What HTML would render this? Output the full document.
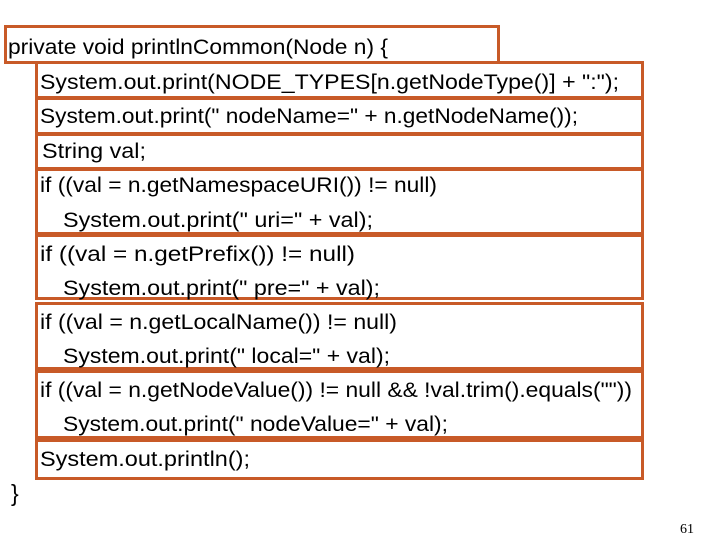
<!DOCTYPE html>
<html><head><style>
html,body{margin:0;padding:0;background:#fff;width:720px;height:540px;overflow:hidden}
svg text{font-family:"Liberation Sans",sans-serif;font-size:21px;fill:#000}
</style></head><body>
<svg width="720" height="540" xmlns="http://www.w3.org/2000/svg">
<g fill="none" stroke="#c85a28" stroke-width="3">
<rect x="5.5" y="26.5" width="493" height="36"/>
<rect x="36.5" y="62.5" width="606" height="35"/>
<rect x="36.5" y="98.5" width="606" height="35"/>
<rect x="36.5" y="134.5" width="606" height="34"/>
<rect x="36.5" y="169.5" width="606" height="64"/>
<rect x="36.5" y="235.5" width="606" height="63"/>
<rect x="36.5" y="303.5" width="606" height="65"/>
<rect x="36.5" y="371.5" width="606" height="66"/>
<rect x="36.5" y="440.5" width="606" height="38"/>
</g>
<text x="8" y="54" textLength="380" lengthAdjust="spacingAndGlyphs">private void printlnCommon(Node n) {</text>
<text x="40" y="89" textLength="579" lengthAdjust="spacingAndGlyphs">System.out.print(NODE_TYPES[n.getNodeType()] + ":");</text>
<text x="40" y="123" textLength="538" lengthAdjust="spacingAndGlyphs">System.out.print(" nodeName=" + n.getNodeName());</text>
<text x="42" y="158" textLength="104" lengthAdjust="spacingAndGlyphs">String val;</text>
<text x="40" y="192" textLength="397" lengthAdjust="spacingAndGlyphs">if ((val = n.getNamespaceURI()) != null)</text>
<text x="63" y="227" textLength="310" lengthAdjust="spacingAndGlyphs">System.out.print(" uri=" + val);</text>
<text x="40" y="261" textLength="315" lengthAdjust="spacingAndGlyphs">if ((val = n.getPrefix()) != null)</text>
<text x="63" y="295" textLength="317" lengthAdjust="spacingAndGlyphs">System.out.print(" pre=" + val);</text>
<text x="40" y="329" textLength="357" lengthAdjust="spacingAndGlyphs">if ((val  = n.getLocalName()) != null)</text>
<text x="63" y="363" textLength="327" lengthAdjust="spacingAndGlyphs">System.out.print(" local=" + val);</text>
<text x="40" y="397" textLength="592" lengthAdjust="spacingAndGlyphs">if ((val = n.getNodeValue()) != null &amp;&amp; !val.trim().equals(""))</text>
<text x="63" y="431" textLength="385" lengthAdjust="spacingAndGlyphs">System.out.print(" nodeValue=" + val);</text>
<text x="40" y="466" textLength="210" lengthAdjust="spacingAndGlyphs">System.out.println();</text>
<text x="11" y="501" style="font-size:23px">}</text>
<text x="680" y="533" style="font-family:'Liberation Serif',serif;font-size:14px">61</text>
</svg>
</body></html>
